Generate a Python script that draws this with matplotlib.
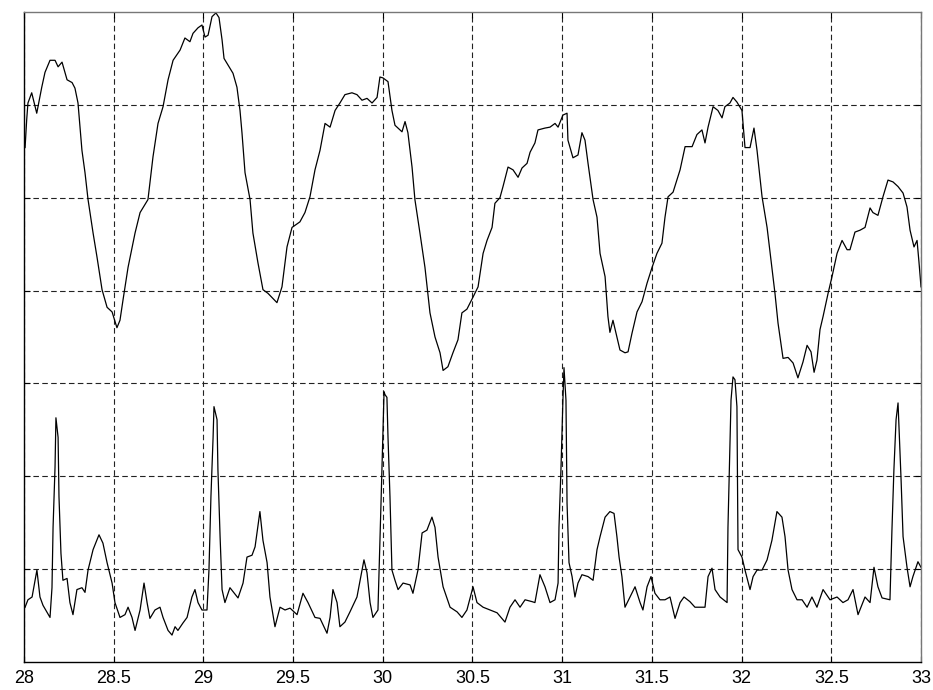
import matplotlib
matplotlib.use('Agg')
import matplotlib.pyplot as plt

# upper trace (slow oscillation)
upper_t = [28.006, 28.015, 28.022, 28.043, 28.071, 28.099, 28.117, 28.145, 28.173, 28.190,
           28.212, 28.240, 28.268, 28.284, 28.301, 28.323, 28.340, 28.357, 28.385, 28.407,
           28.435, 28.463, 28.491, 28.518, 28.535, 28.552, 28.580, 28.619, 28.647, 28.691,
           28.719, 28.747, 28.775, 28.803, 28.831, 28.870, 28.897, 28.925, 28.942, 28.970,
           28.992, 29.009, 29.026, 29.048, 29.070, 29.087, 29.104, 29.115, 29.137, 29.165,
           29.187, 29.204, 29.215, 29.232, 29.260, 29.276, 29.304, 29.332, 29.360, 29.410,
           29.438, 29.466, 29.494, 29.538, 29.566, 29.594, 29.622, 29.650, 29.678, 29.706,
           29.734, 29.761, 29.789, 29.828, 29.856, 29.884, 29.912, 29.940, 29.968, 29.984,
           30.001, 30.029, 30.051, 30.068, 30.107, 30.124, 30.140, 30.163, 30.179, 30.207,
           30.235, 30.263, 30.291, 30.319, 30.336, 30.363, 30.391, 30.419, 30.441, 30.469,
           30.503, 30.531, 30.559, 30.581, 30.609, 30.625, 30.653, 30.670, 30.698, 30.726,
           30.754, 30.776, 30.804, 30.821, 30.848, 30.865, 30.904, 30.932, 30.960, 30.977,
           31.004, 31.027, 31.032, 31.060, 31.088, 31.110, 31.127, 31.144, 31.172, 31.194,
           31.211, 31.239, 31.255, 31.266, 31.283, 31.305, 31.322, 31.350, 31.367, 31.389,
           31.417, 31.445, 31.473, 31.501, 31.528, 31.556, 31.573, 31.590, 31.618, 31.657,
           31.685, 31.724, 31.751, 31.779, 31.796, 31.813, 31.841, 31.868, 31.891, 31.907,
           31.935, 31.952, 31.974, 32.002, 32.019, 32.047, 32.069, 32.086, 32.114, 32.142,
           32.169, 32.186, 32.203, 32.231, 32.259, 32.287, 32.314, 32.342, 32.365, 32.387,
           32.404, 32.420, 32.437, 32.454, 32.482, 32.504, 32.532, 32.560, 32.588, 32.604,
           32.632, 32.660, 32.688, 32.716, 32.732, 32.760, 32.788, 32.816, 32.844, 32.872,
           32.900, 32.922, 32.939, 32.961, 32.978, 32.989, 33.000]
upper_v = [5.54, 5.84, 6.02, 6.13, 5.91, 6.19, 6.35, 6.48, 6.48, 6.41,
           6.46, 6.27, 6.24, 6.18, 6.02, 5.51, 5.27, 4.98, 4.62, 4.36,
           4.01, 3.82, 3.77, 3.60, 3.68, 3.90, 4.25, 4.62, 4.84, 4.98,
           5.44, 5.80, 5.98, 6.27, 6.48, 6.59, 6.72, 6.68, 6.77, 6.83,
           6.86, 6.73, 6.75, 6.95, 6.99, 6.94, 6.70, 6.50, 6.43, 6.34,
           6.19, 5.94, 5.70, 5.27, 4.98, 4.62, 4.30, 4.01, 3.97, 3.87,
           4.04, 4.47, 4.68, 4.74, 4.84, 5.01, 5.30, 5.51, 5.80, 5.76,
           5.94, 6.02, 6.11, 6.13, 6.11, 6.05, 6.07, 6.02, 6.08, 6.30,
           6.29, 6.25, 5.94, 5.78, 5.71, 5.82, 5.70, 5.33, 4.98, 4.62,
           4.25, 3.76, 3.50, 3.33, 3.14, 3.18, 3.33, 3.47, 3.76, 3.80,
           3.93, 4.04, 4.40, 4.54, 4.68, 4.94, 5.00, 5.12, 5.33, 5.30,
           5.22, 5.32, 5.37, 5.49, 5.59, 5.73, 5.75, 5.76, 5.80, 5.76,
           5.89, 5.91, 5.62, 5.43, 5.46, 5.70, 5.62, 5.37, 4.98, 4.79,
           4.40, 4.15, 3.72, 3.55, 3.68, 3.50, 3.36, 3.33, 3.34, 3.54,
           3.77, 3.88, 4.08, 4.25, 4.40, 4.51, 4.79, 5.01, 5.06, 5.30,
           5.55, 5.55, 5.68, 5.73, 5.59, 5.76, 5.98, 5.94, 5.86, 5.98,
           6.02, 6.08, 6.03, 5.94, 5.54, 5.54, 5.75, 5.51, 5.01, 4.68,
           4.25, 3.97, 3.65, 3.27, 3.28, 3.22, 3.06, 3.23, 3.41, 3.34,
           3.12, 3.25, 3.58, 3.72, 3.97, 4.15, 4.40, 4.54, 4.44, 4.44,
           4.63, 4.65, 4.68, 4.89, 4.84, 4.81, 5.01, 5.19, 5.17, 5.12,
           5.05, 4.90, 4.65, 4.47, 4.54, 4.30, 4.04]

# lower trace (spiky)
lower_t = [28.006, 28.022, 28.045, 28.072, 28.089, 28.106, 28.145, 28.156, 28.162, 28.173,
           28.178, 28.190, 28.195, 28.206, 28.217, 28.240, 28.256, 28.273, 28.295, 28.323,
           28.340, 28.357, 28.385, 28.418, 28.440, 28.463, 28.491, 28.507, 28.535, 28.563,
           28.580, 28.602, 28.619, 28.647, 28.669, 28.686, 28.702, 28.730, 28.758, 28.775,
           28.803, 28.825, 28.842, 28.858, 28.886, 28.909, 28.936, 28.953, 28.970, 28.992,
           29.020, 29.031, 29.042, 29.054, 29.059, 29.076, 29.081, 29.093, 29.104, 29.120,
           29.148, 29.193, 29.221, 29.243, 29.271, 29.288, 29.315, 29.332, 29.355, 29.371,
           29.399, 29.427, 29.455, 29.483, 29.522, 29.555, 29.583, 29.622, 29.650, 29.689,
           29.706, 29.722, 29.745, 29.761, 29.789, 29.817, 29.856, 29.884, 29.895, 29.912,
           29.929, 29.945, 29.973, 29.990, 30.001, 30.007, 30.012, 30.023, 30.029, 30.040,
           30.051, 30.068, 30.085, 30.113, 30.152, 30.168, 30.196, 30.219, 30.246, 30.274,
           30.291, 30.308, 30.336, 30.375, 30.414, 30.441, 30.469, 30.503, 30.525, 30.559,
           30.598, 30.637, 30.681, 30.709, 30.737, 30.765, 30.793, 30.832, 30.848, 30.876,
           30.904, 30.932, 30.960, 30.977, 30.982, 30.993, 31.004, 31.010, 31.021, 31.027,
           31.038, 31.055, 31.071, 31.088, 31.110, 31.144, 31.172, 31.194, 31.211, 31.239,
           31.266, 31.289, 31.305, 31.317, 31.333, 31.350, 31.378, 31.406, 31.434, 31.450,
           31.473, 31.495, 31.517, 31.545, 31.573, 31.601, 31.629, 31.657, 31.679, 31.712,
           31.740, 31.768, 31.796, 31.813, 31.835, 31.852, 31.880, 31.919, 31.924, 31.941,
           31.952, 31.963, 31.974, 31.980, 32.002, 32.019, 32.047, 32.064, 32.086, 32.114,
           32.142, 32.169, 32.197, 32.225, 32.242, 32.259, 32.281, 32.309, 32.337, 32.365,
           32.392, 32.420, 32.454, 32.493, 32.532, 32.565, 32.593, 32.621, 32.649, 32.688,
           32.716, 32.738, 32.760, 32.783, 32.827, 32.838, 32.849, 32.861, 32.872, 32.889,
           32.900, 32.922, 32.939, 32.955, 32.983, 33.000]
lower_v = [0.59, 0.67, 0.70, 0.99, 0.70, 0.61, 0.48, 0.80, 1.45, 2.10,
           2.63, 2.42, 1.78, 1.17, 0.88, 0.90, 0.64, 0.51, 0.78, 0.80,
           0.75, 0.99, 1.21, 1.37, 1.28, 1.07, 0.85, 0.64, 0.48, 0.51,
           0.59, 0.48, 0.34, 0.56, 0.85, 0.64, 0.47, 0.56, 0.59, 0.48,
           0.34, 0.29, 0.38, 0.34, 0.42, 0.48, 0.70, 0.78, 0.64, 0.56,
           0.56, 0.99, 1.78, 2.42, 2.75, 2.61, 2.07, 1.35, 0.78, 0.64,
           0.80, 0.69, 0.85, 1.13, 1.15, 1.24, 1.62, 1.31, 1.07, 0.70,
           0.38, 0.59, 0.56, 0.58, 0.51, 0.74, 0.64, 0.48, 0.47, 0.31,
           0.48, 0.78, 0.64, 0.38, 0.43, 0.54, 0.70, 0.99, 1.10, 0.96,
           0.64, 0.48, 0.56, 1.71, 2.50, 2.91, 2.88, 2.85, 2.42, 1.78,
           0.99, 0.88, 0.78, 0.85, 0.83, 0.74, 0.99, 1.39, 1.42, 1.56,
           1.45, 1.13, 0.81, 0.59, 0.54, 0.48, 0.56, 0.81, 0.64, 0.59,
           0.56, 0.53, 0.43, 0.59, 0.67, 0.59, 0.67, 0.65, 0.64, 0.94,
           0.81, 0.64, 0.67, 0.85, 1.45, 2.07, 2.82, 3.17, 2.82, 1.71,
           1.07, 0.92, 0.70, 0.85, 0.94, 0.92, 0.88, 1.21, 1.35, 1.56,
           1.62, 1.60, 1.35, 1.13, 0.92, 0.59, 0.70, 0.81, 0.64, 0.56,
           0.81, 0.92, 0.74, 0.67, 0.67, 0.70, 0.47, 0.64, 0.70, 0.65,
           0.59, 0.59, 0.59, 0.92, 1.01, 0.78, 0.70, 0.64, 1.45, 2.82,
           3.07, 3.04, 2.75, 1.21, 1.13, 0.99, 0.78, 0.92, 0.99, 0.99,
           1.10, 1.31, 1.62, 1.56, 1.35, 0.99, 0.78, 0.67, 0.67, 0.59,
           0.70, 0.59, 0.78, 0.67, 0.70, 0.64, 0.67, 0.78, 0.51, 0.70,
           0.64, 1.02, 0.81, 0.69, 0.67, 1.42, 2.07, 2.61, 2.79, 1.96,
           1.35, 1.02, 0.81, 0.92, 1.08, 1.02]

x_ticks = [28, 28.5, 29, 29.5, 30, 30.5, 31, 31.5, 32, 32.5, 33]
x_labels = ['28', '28.5', '29', '29.5', '30', '30.5', '31', '31.5', '32', '32.5', '33']
y_ticks = [1, 2, 3, 4, 5, 6]

fig = plt.figure(figsize=(9.33, 6.9), dpi=100)
ax = fig.add_axes([24 / 933, 28 / 690, 897 / 933, 650 / 690])

ax.plot(upper_t, upper_v, color='black', linewidth=0.9)
ax.plot(lower_t, lower_v, color='black', linewidth=0.9)

ax.set_xlim(28, 33)
ax.set_ylim(0, 7)
ax.set_xticks(x_ticks)
ax.set_xticklabels(x_labels, fontfamily='Liberation Sans', fontsize=13)
ax.set_yticks(y_ticks)
ax.set_yticklabels([])
ax.tick_params(direction='in', length=4, width=0.8, top=True, right=True, pad=6)
ax.grid(True, color='#222222', linestyle=(0, (5, 3)), linewidth=0.8)

for side in ['left', 'bottom']:
    ax.spines[side].set_color('black')
    ax.spines[side].set_linewidth(1.0)
for side in ['top', 'right']:
    ax.spines[side].set_color('#777777')
    ax.spines[side].set_linewidth(1.0)

fig.savefig('out.png', dpi=100)
